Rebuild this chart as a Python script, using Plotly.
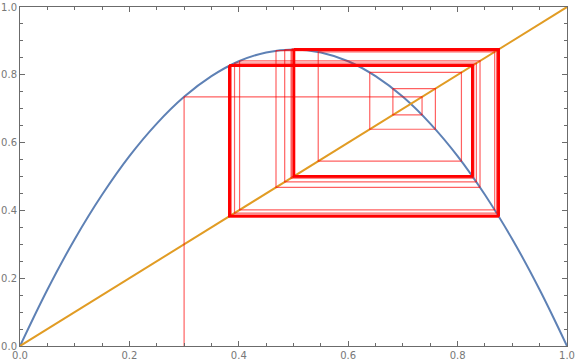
import plotly.graph_objects as go

# Logistic map curve (r ~ 3.5)
curve_x = [0.0, 0.05, 0.1, 0.15, 0.2, 0.25, 0.3, 0.35, 0.4, 0.45, 0.5,
           0.55, 0.6, 0.65, 0.7, 0.75, 0.8, 0.85, 0.9, 0.95, 1.0]
curve_y = [0.0, 0.166, 0.315, 0.446, 0.56, 0.656, 0.735, 0.796, 0.84, 0.866, 0.875,
           0.866, 0.84, 0.796, 0.735, 0.656, 0.56, 0.446, 0.315, 0.166, 0.0]

diag_x = [0.0, 1.0]
diag_y = [0.0, 1.0]

# Orbit values (cobweb) starting at 0.3
orbit = [0.3, 0.735, 0.6817, 0.7594, 0.6394, 0.8070, 0.5452, 0.8678, 0.4014,
         0.8410, 0.4680, 0.8714, 0.3922, 0.8343, 0.4839, 0.8741, 0.3852,
         0.8289, 0.4965, 0.8750, 0.3829, 0.8270, 0.5007, 0.8750,
         0.3828, 0.8269, 0.5009, 0.8750, 0.3828, 0.8269, 0.5009, 0.8750,
         0.3828, 0.8269, 0.5009, 0.8750, 0.3828, 0.8269, 0.5009, 0.8750,
         0.3828, 0.8269, 0.5009, 0.8750, 0.3828, 0.8269, 0.5009, 0.8750]

fig = go.Figure()
fig.add_trace(go.Scatter(x=curve_x, y=curve_y, mode="lines",
                         line=dict(color="#5E81B5", width=2, shape="spline"),
                         hoverinfo="skip"))
fig.add_trace(go.Scatter(x=diag_x, y=diag_y, mode="lines",
                         line=dict(color="#E19C24", width=2), hoverinfo="skip"))

red = "rgba(255,0,0,0.62)"
fig.add_trace(go.Scatter(x=[orbit[0], orbit[0]], y=[0, orbit[1]], mode="lines",
                         line=dict(color=red, width=1.2)))
for i in range(1, len(orbit) - 1):
    a, b = orbit[i - 1], orbit[i]
    c = orbit[i + 1]
    w = 1.2 if i < 16 else 2.2
    fig.add_trace(go.Scatter(x=[a, b, b], y=[b, b, c], mode="lines",
                             line=dict(color=red, width=w)))

axis_common = dict(
    range=[0, 1], showgrid=False, zeroline=False, automargin=False,
    showline=True, linecolor="#6b6b6b", linewidth=1, mirror="ticks",
    ticks="inside", ticklen=5, tickcolor="#6b6b6b", tickwidth=1,
    dtick=0.2, tick0=0, tickformat=".1f",
    tickfont=dict(family="DejaVu Sans", size=10, color="#777777"),
    minor=dict(dtick=0.05, ticks="inside", ticklen=3, tickcolor="#6b6b6b"),
)
fig.update_xaxes(**axis_common)
fig.update_yaxes(**axis_common)
fig.update_layout(
    width=576, height=363, showlegend=False,
    margin=dict(l=20, r=9, t=7, b=17),
    plot_bgcolor="white", paper_bgcolor="white",
)
fig.write_html("out.html")
